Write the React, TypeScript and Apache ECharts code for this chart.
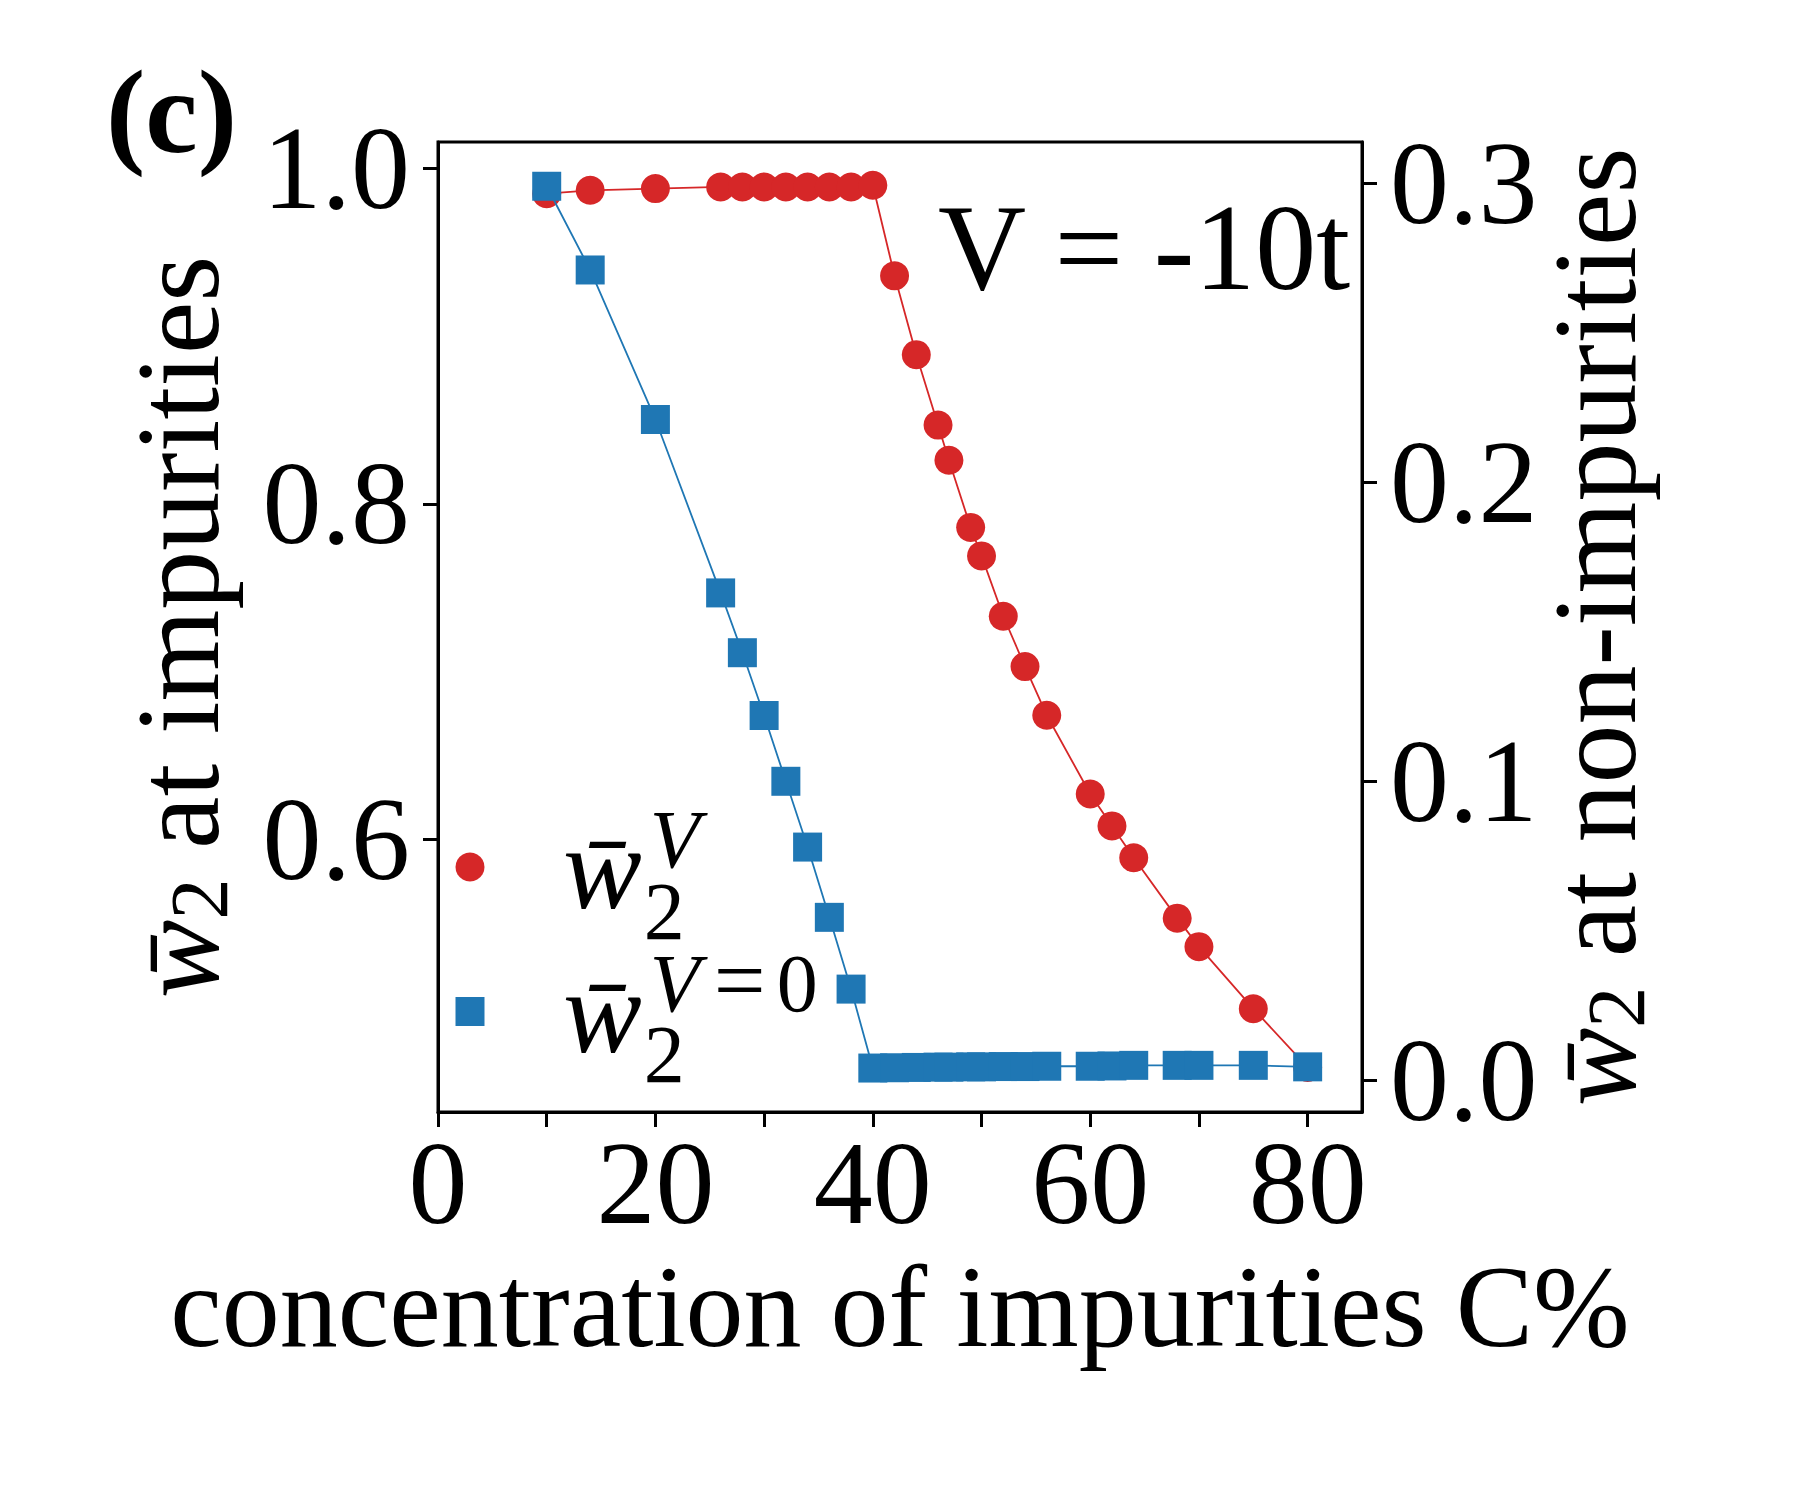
import React, { useEffect, useRef } from "react";
import * as echarts from "echarts";

// concentration of impurities C%
const concentration = [10, 14, 20, 26, 28, 30, 32, 34, 36, 38, 40, 42, 44, 46, 47, 49, 50, 52, 54, 56, 60, 62, 64, 68, 70, 75, 80];
// w2 at impurities (left axis, red circles)
const w2AtImpurities = [0.985, 0.987, 0.988, 0.989, 0.989, 0.989, 0.989, 0.989, 0.989, 0.989, 0.99, 0.936, 0.889, 0.847, 0.826, 0.786, 0.769, 0.733, 0.703, 0.674, 0.627, 0.608, 0.589, 0.553, 0.536, 0.499, 0.464];
// w2 at non-impurities (right axis, blue squares)
const w2AtNonImpurities = [0.299, 0.271, 0.221, 0.163, 0.143, 0.122, 0.1, 0.078, 0.0545, 0.0305, 0.0041, 0.0042, 0.0043, 0.0044, 0.0044, 0.0045, 0.0045, 0.0046, 0.0046, 0.0047, 0.0047, 0.0048, 0.005, 0.005, 0.005, 0.005, 0.0045];

const xTickValues = [0, 10, 20, 30, 40, 50, 60, 70, 80];
const xLabelValues = [0, 20, 40, 60, 80];
const leftTickValues = [0.6, 0.8, 1.0];
const rightTickValues = [0, 0.1, 0.2, 0.3];

const SERIF = "'Liberation Serif', 'Times New Roman', serif";
const RED = "#d62728";
const BLUE = "#1f77b4";
const WBAR = "w\u0304";

export default function App() {
  const ref = useRef<HTMLDivElement>(null);
  useEffect(() => {
    const chart = echarts.init(ref.current!, null, { renderer: "svg" });
    const tickStyle = { color: "#000", width: 3 };
    const labelBase = { fontFamily: SERIF, fontSize: 118, color: "#000", lineHeight: 118 };
    const nameRich = {
      w: { fontFamily: SERIF, fontStyle: "italic", fontSize: 118, lineHeight: 180, color: "#000" },
      s: { fontFamily: SERIF, fontSize: 82, verticalAlign: "bottom", padding: [0, 0, 28, 0], color: "#000" },
      t: { fontFamily: SERIF, fontSize: 118, lineHeight: 180, color: "#000" },
    };
    // legend label rich styles: one line per entry, line height = entry spacing
    const LEG_L = 143.5;
    const legendRich = {
      w: { fontFamily: SERIF, fontStyle: "italic", fontSize: 118, lineHeight: LEG_L, fill: "#000" },
      s: { fontFamily: SERIF, fontSize: 82, verticalAlign: "bottom", height: 58, lineHeight: 10, width: 6, padding: [0, 0, 0, 2], fill: "#000" },
      v: { fontFamily: SERIF, fontStyle: "italic", fontSize: 82, verticalAlign: "top", height: 86, lineHeight: 10, fill: "#000" },
      e: { fontFamily: SERIF, fontSize: 92, verticalAlign: "top", height: 80, lineHeight: 10, padding: [0, 0, 0, 14], fill: "#000" },
      z: { fontFamily: SERIF, fontSize: 82, verticalAlign: "top", height: 86, lineHeight: 10, padding: [0, 0, 0, 11], fill: "#000" },
    };
    const txt = (x: number, y: number, text: string, size: number, extra: any = {}) => ({
      type: "text",
      x,
      y,
      z: 100,
      style: {
        text,
        fontFamily: SERIF,
        fontSize: size,
        fill: "#000",
        textAlign: "left",
        verticalAlign: "middle",
        textVerticalAlign: "middle",
        ...extra,
      },
    });
    chart.setOption({
      animation: false,
      backgroundColor: "#fff",
      textStyle: { fontFamily: SERIF },
      grid: {
        left: 438,
        top: 142,
        width: 924,
        height: 970,
        show: true,
        borderColor: "#000",
        borderWidth: 3,
        backgroundColor: "transparent",
      },
      xAxis: {
        type: "value",
        min: 0,
        max: 85,
        axisLine: { show: true, onZero: false, lineStyle: tickStyle },
        axisTick: { show: true, length: 15, lineStyle: tickStyle, customValues: xTickValues },
        axisLabel: { ...labelBase, margin: 12, customValues: xLabelValues, formatter: (v: number) => String(v) },
        splitLine: { show: false },
        name: "concentration of impurities C%",
        nameLocation: "middle",
        nameGap: 137,
        nameMoveOverlap: false,
        nameTextStyle: { fontFamily: SERIF, fontSize: 116, color: "#000", lineHeight: 116 },
      },
      yAxis: [
        {
          type: "value",
          position: "left",
          min: 0.4374,
          max: 1.0158,
          axisLine: { show: true, onZero: false, lineStyle: tickStyle },
          axisTick: { show: true, length: 15, lineStyle: tickStyle, customValues: leftTickValues },
          axisLabel: { ...labelBase, margin: 28, customValues: leftTickValues, formatter: (v: number) => v.toFixed(1) },
          splitLine: { show: false },
          name: `{w|${WBAR}}{s|2}{t| at impurities}`,
          nameLocation: "middle",
          nameRotate: 90,
          nameGap: 170,
          nameMoveOverlap: false,
          nameTextStyle: { rich: nameRich },
        },
        {
          type: "value",
          position: "right",
          min: -0.0106,
          max: 0.3138,
          axisLine: { show: true, onZero: false, lineStyle: tickStyle },
          axisTick: { show: true, length: 15, lineStyle: tickStyle, customValues: rightTickValues },
          axisLabel: { ...labelBase, margin: 28, customValues: rightTickValues, formatter: (v: number) => v.toFixed(1) },
          splitLine: { show: false },
          name: `{w|${WBAR}}{s|2}{t| at non-impurities}`,
          nameLocation: "middle",
          nameRotate: 90,
          nameGap: 143,
          nameMoveOverlap: false,
          nameTextStyle: { rich: nameRich },
        },
      ],
      series: [
        {
          name: "w2V",
          type: "line",
          yAxisIndex: 0,
          data: concentration.map((c, i) => [c, w2AtImpurities[i]]),
          symbol: "circle",
          symbolSize: 29,
          showAllSymbol: true,
          lineStyle: { color: RED, width: 1.8 },
          itemStyle: { color: RED },
          z: 2,
        },
        {
          name: "w2V0",
          type: "line",
          yAxisIndex: 1,
          data: concentration.map((c, i) => [c, w2AtNonImpurities[i]]),
          symbol: "rect",
          symbolSize: 29,
          showAllSymbol: true,
          lineStyle: { color: BLUE, width: 1.8 },
          itemStyle: { color: BLUE },
          z: 3,
        },
      ],
      graphic: [
        txt(106, 112, "(c)", 118, { fontWeight: "bold" }),
        txt(938, 247, "V = -10t", 122),
        { type: "circle", z: 100, shape: { cx: 470, cy: 867, r: 14.5 }, style: { fill: RED } },
        { type: "rect", z: 100, shape: { x: 455.5, y: 997, width: 29, height: 29 }, style: { fill: BLUE } },
        {
          type: "text",
          x: 563,
          y: 868.5 - LEG_L / 2,
          z: 100,
          style: {
            text: `{w|${WBAR}}{s|2}{v|V}\n{w|${WBAR}}{s|2}{v|V}{e|=}{z|0}`,
            rich: legendRich,
            fontFamily: SERIF,
            fontSize: 118,
            fill: "#000",
            textAlign: "left",
            verticalAlign: "top",
            textVerticalAlign: "top",
          },
        },
      ],
    });
    return () => chart.dispose();
  }, []);
  return (
    <div
      ref={ref}
      style={{ position: "absolute", left: 0, top: 0, width: 1800, height: 1500, background: "#fff" }}
    />
  );
}
